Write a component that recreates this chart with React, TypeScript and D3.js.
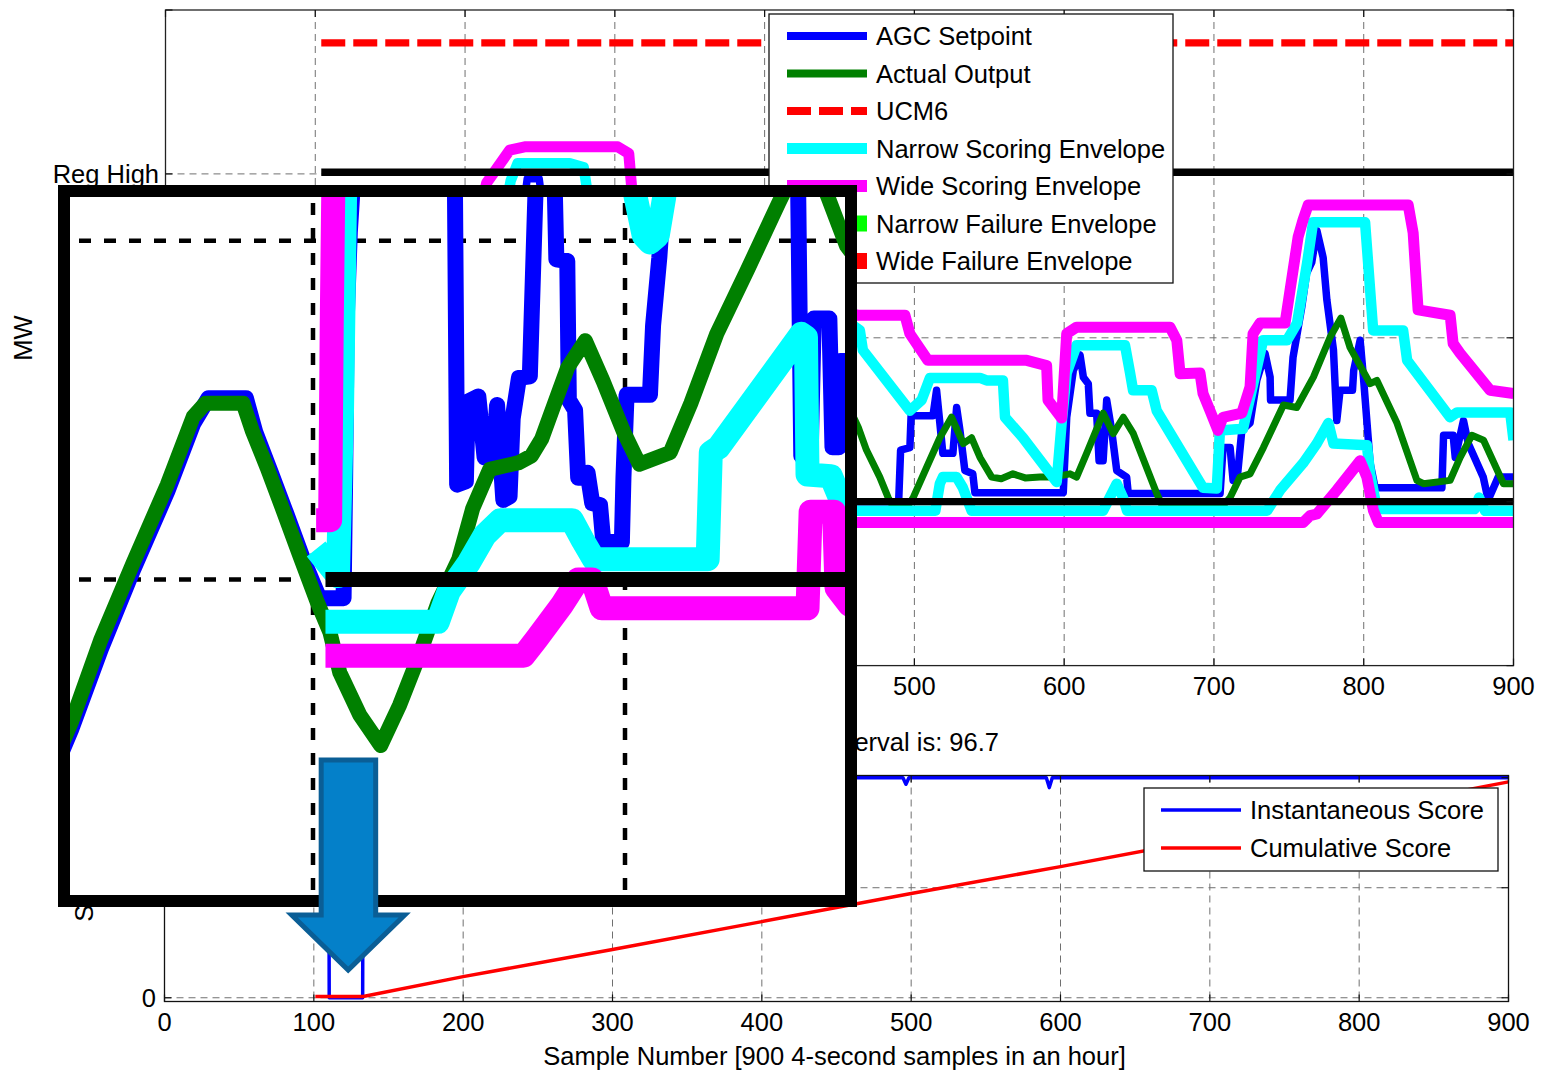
import React from "react";
import * as d3 from "d3";

type Pt = [number, number];

// ---------------- data ----------------
const sampleTicks = [0, 100, 200, 300, 400, 500, 600, 700, 800, 900];
const mwTickValues = [20, 40, 60, 80, 100];
const mwGridValues = [40, 60, 80];
const regHighTick = 80;
const scoreTickValues = [0, 50, 100];
const insetGridSamples = [100, 200];
const insetGridValues = [40, 60];

const regHigh = 80.2;
const regLow = 40;
const ucm6 = 96;
const envelopeStart = 104;
const lastSample = 900;

const agcSetpoint: Pt[] = [
  [18, 29.2], [22.6, 31.2], [32, 35.9], [42.4, 40.6], [53.3, 45.2], [61.6, 49.2], [66.5, 50.7], [78.5, 50.7],
  [81.5, 48.7], [86.3, 46.4], [91.4, 43.9], [96.8, 41.2], [102, 38.9],
  [109.8, 38.9], [110.3, 46], [110.8, 55.3], [111.8, 60.5], [113, 64], [115, 70],
  [143, 70], [145.5, 63], [146.2, 45.6], [149, 45.8], [149.6, 50.5], [153, 50.8], [155, 47.2], [158, 47.5],
  [159, 50.3], [161, 44.7], [163, 44.9], [164, 49.5], [166, 51.9], [169.5, 52], [170.5, 58], [171.5, 64], [173, 70],
  [176.5, 70], [177.5, 63], [178, 58.9], [181.5, 58.8], [182, 50.6], [184, 50], [185, 46], [188, 46.3],
  [189.5, 44.5], [192, 44.4], [193, 42.3], [199, 42.2], [199.5, 46], [200.5, 50.9], [208, 50.9], [209, 55],
  [211, 59], [212.5, 63], [214.5, 70],
  [238, 72], [240.5, 78], [241.5, 79.4], [249.5, 79.4], [250.5, 78], [252.5, 70], [255.5, 63], [256.5, 47.3],
  [259.5, 47.3], [260.5, 55.4], [265.5, 55.4], [266.5, 47.8], [268.5, 47.8], [269, 52.9], [273, 52.9],
  [290, 50], [320, 46], [360, 48], [400, 44], [440, 42], [460, 40], [489.5, 40],
  [490.8, 46.3], [497, 46.6], [497.8, 50.5], [512.4, 50.5], [514.8, 53.6], [517, 49.6], [519, 45.9],
  [525.7, 45.9], [528.2, 51.5], [530.4, 48.7], [533.7, 43.8], [539, 43.4], [540.4, 41.1], [599.4, 41.1],
  [601.7, 50.3], [606.1, 56], [610.6, 57.9], [612.8, 55.2], [616.1, 54.4], [617.2, 50.8], [621.7, 50.8],
  [623.3, 45], [626, 45], [628.4, 52.4], [631.7, 48.7], [635.1, 43.8], [641.7, 43], [642.8, 41], [704.1, 41],
  [706.1, 46.6], [710.8, 46.6], [712.8, 42.6], [715.4, 42.6], [718.6, 48.7], [724.1, 49.6], [728.6, 54.8],
  [734.1, 58.1], [737.5, 55.2], [737.8, 52.4], [750.8, 52.4], [752.8, 57.6], [758.6, 63.7], [761.9, 67.9],
  [765.3, 69.2], [768.7, 73.1], [772.9, 69.8], [775.4, 64.6], [779.8, 58.5], [782, 49.9], [784.2, 53.6],
  [792.5, 53.6], [793.3, 56], [797.6, 59.7], [799.8, 55.2], [804.3, 44.7], [807.6, 41.7], [852.2, 41.7],
  [853.3, 48.1], [859.7, 48.1], [861.1, 45.4], [866.6, 49.9], [869.8, 47.1], [879.8, 43], [883.1, 40.2],
  [889.8, 43], [900, 43],
];

const actualOutput: Pt[] = [
  [18, 29.6], [22.6, 31.6], [31.9, 36.4], [42.4, 41.0], [53.3, 45.6], [61.6, 49.6], [65.5, 50.4], [77.6, 50.4],
  [80.5, 48.8], [85.3, 46.6], [90.4, 44.1], [95.8, 41.4], [101.3, 38.7], [105.4, 36.9], [108.6, 34.5],
  [115, 32.0], [121.7, 30.2], [127.8, 32.6], [134.2, 35.6], [140, 38.6], [146.7, 41.2], [151.2, 44.2],
  [156.6, 46.5], [166, 46.9], [170, 47.3], [173.3, 48.3], [181.6, 52.5], [187.3, 54.1], [193, 51.7],
  [199.6, 48.7], [204.6, 46.8], [214.5, 47.5], [221.1, 50.4], [229.4, 54.5], [239.3, 58.3], [249.2, 62.2],
  [256, 64.8], [261, 64.5], [265, 62.6], [271, 59.7],
  [290, 55], [320, 50], [350, 47], [380, 51], [410, 55], [440, 56], [455, 52],
  [462.5, 49.1], [468, 46.3], [476.9, 43], [482.5, 40.5], [486, 39.3], [495, 39.3], [499.2, 40.5],
  [508.2, 44.2], [517, 47.8], [524.8, 50.3], [532.6, 47.1], [538.2, 47.8], [543.8, 45.4], [551.6, 43],
  [558, 42.8], [565.8, 43.4], [574, 42.9], [583.8, 43], [592.7, 43], [603.9, 43.4], [608.3, 43], [615, 45.9],
  [626.1, 50.8], [632.8, 48.3], [639.5, 50.3], [646.2, 48.3], [661.8, 41], [666, 39.3], [705, 39.3],
  [710.8, 40.5], [717.4, 43], [724.1, 43.4], [733, 46.6], [746.4, 51.8], [755.3, 51.5], [766.4, 55.2],
  [777.6, 60.1], [784.7, 62.4], [790.9, 58.8], [804.3, 54.4], [808.8, 54.8], [822.2, 49.6], [835.5, 42.6],
  [839.9, 42.2], [857.7, 42.6], [864.4, 45.4], [872.2, 48.1], [880, 47.5], [893.3, 42.2], [900, 42.2],
];

const narrowUpper: Pt[] = [
  [101, 41.8], [108, 40.2], [109.3, 50], [110.3, 63], [112, 70], [198, 70], [200, 66], [203.5, 62.5],
  [206, 60.3], [208, 59.9], [210.5, 60.3], [212.5, 62.5], [215, 66], [225, 74], [230.5, 79.2], [235.1, 81.3],
  [269.9, 81.3], [279.2, 80.8], [281.2, 78.4],
  [290, 72], [330, 68], [380, 66], [430, 63.5], [455, 62],
  [463.6, 60.9], [465.6, 58.5], [497, 51.1], [504.8, 52.4], [510.4, 55.1], [543.8, 55.1], [548.2, 54.8],
  [559.1, 54.8], [560.5, 50.3], [572.5, 47.8], [595, 42.4], [598.3, 49.6], [601.7, 55.7], [608.3, 59.1],
  [640.6, 59.1], [644, 55.7], [646, 53.6], [658.4, 53.6], [661.8, 51.1], [692.7, 41.7], [701.9, 41.6],
  [704, 48.7], [719.4, 48.9], [732.8, 59.7], [748.8, 59.7], [755.5, 61.8], [762.2, 69.1], [766.2, 74.1],
  [800.9, 74.1], [804.3, 65.8], [806.3, 60.9], [826.3, 60.9], [829, 57.25], [857.7, 50.3], [862.4, 50.9],
  [897.8, 50.9], [900, 47.5],
];

const narrowLower: Pt[] = [
  [104, 37.5], [140, 37.5], [143.5, 39.3], [150, 41], [155, 42.6], [160, 43.5], [183, 43.5], [186.5, 42.3],
  [190, 41.2], [226.5, 41.2], [227.5, 47.5], [230, 47.8], [256.5, 54.5], [258, 54.3], [258.5, 46.2],
  [266, 46.1], [268.5, 45], [271.5, 43.3], [276, 40],
  [320, 39], [460, 38.9],
  [514, 38.9], [517, 42.2], [519, 43], [528.2, 43], [532.4, 41.7], [538.2, 38.9], [626, 38.9], [635.1, 42.2],
  [639.3, 40.5], [642, 38.9], [735.5, 38.9], [744.2, 41.4], [759.5, 44.7], [768.7, 47.1], [776.4, 49.6],
  [779.8, 47.1], [802.1, 46.9], [804.3, 43.4], [808.8, 39.1], [874, 39.1], [877, 40.5], [881, 38.9], [900, 38.9],
];

const wideUpper: Pt[] = [
  [101, 43.5], [105.5, 43.5], [106, 55], [106.5, 63], [108, 68], [200, 70], [208, 74], [214.4, 78.9],
  [229.8, 82.9], [239.8, 83.3], [302, 83.3], [309.3, 82.5], [311.3, 78.2],
  [320, 72], [360, 68], [420, 65], [455, 63],
  [462.3, 62.75], [493.7, 62.75], [497, 60.5], [509, 57.25], [575, 57.25], [588.3, 56.6], [589.2, 52.4],
  [598.3, 50.2], [601.7, 60.5], [608.3, 61.3], [670.7, 61.3], [675.2, 59.7], [677.4, 55.6], [690.7, 55.7],
  [692.7, 53.2], [697.4, 51.1], [702.7, 48.7], [706, 50.3], [718.6, 50.8], [724.1, 54], [726.1, 60.5],
  [730.8, 61.8], [747.5, 61.8], [750.8, 65.8], [756.2, 72.3], [759.5, 74.4], [762.9, 76.2], [829.7, 76.2],
  [833, 72.8], [836.3, 63.4], [857.7, 62.75], [859.7, 59.3], [864.4, 58.1], [884.4, 53.6], [900, 53.2],
];

const wideLower: Pt[] = [
  [104, 35.5], [167.5, 35.5], [171.7, 36.5], [179.8, 38.5], [185, 40], [189.5, 40], [192.5, 38.3],
  [258.5, 38.3], [259.5, 44], [267, 44], [267.8, 39.5], [272, 38.5],
  [320, 37.5], [460, 37.45],
  [759.5, 37.45], [764.2, 38.3], [768.7, 38.5], [782, 41.4], [797.6, 45], [802.1, 43], [806.5, 38.9],
  [809.8, 37.45], [900, 37.45],
];

const instantaneousScore: Pt[] = [
  [104, 100], [110, 100], [110.3, 0], [132.7, 0], [133, 100], [494.5, 100], [496.5, 97], [498.5, 100],
  [590.5, 100], [592.5, 95.5], [594.5, 100], [900, 100],
];

const cumulativeScore: Pt[] = [
  [101, 0.6], [133, 0.6], [200, 9.6], [300, 21.9], [400, 34.6], [500, 47.4], [600, 59.6], [700, 72.4],
  [800, 85.1], [900, 98.1],
];

const topLegendLabels = [
  "AGC Setpoint",
  "Actual Output",
  "UCM6",
  "Narrow Scoring Envelope",
  "Wide Scoring Envelope",
  "Narrow Failure Envelope",
  "Wide Failure Envelope",
];
const bottomLegendLabels = ["Instantaneous Score", "Cumulative Score"];
const scoreTitle = "Performance Score for the interval is: 96.7";
const xAxisLabel = "Sample Number [900 4-second samples in an hour]";
const yAxisTop = "MW";
const yAxisBottom = "Score";
const regHighLabel = "Reg High";
const arrowSample = 123;

// ---------------- styling ----------------
const FONT = "'Liberation Sans', Arial, Helvetica, sans-serif";
const FS = 25.5;
const BLUE = "#0000FF";
const GREEN = "#008000";
const CYAN = "#00FFFF";
const MAGENTA = "#FF00FF";
const RED = "#FF0000";
const LIME = "#00FF00";
const GRID = "#707070";

const topLegendStyles = [
  { color: BLUE, width: 8, dash: undefined as string | undefined },
  { color: GREEN, width: 8, dash: undefined },
  { color: RED, width: 8, dash: "24,8" },
  { color: CYAN, width: 11, dash: undefined },
  { color: MAGENTA, width: 12, dash: undefined },
  { color: LIME, width: 16, dash: undefined },
  { color: RED, width: 16, dash: undefined },
];
const bottomLegendStyles = [BLUE, RED];

export default function App() {
  // scales
  const xMain = d3.scaleLinear().domain([0, 900]).range([165.5, 1513.5]);
  const yMain = d3.scaleLinear().domain([20, 100]).range([665.6, 10]);
  const xIn = d3.scaleLinear().domain([100, 200]).range([313, 625]);
  const yIn = d3.scaleLinear().domain([40, 60]).range([579.5, 240.7]);
  const xBot = d3.scaleLinear().domain([0, 900]).range([164.5, 1508.5]);
  const yBot = d3.scaleLinear().domain([-1.7, 101]).range([1001.5, 775.5]);

  const mk = (x: d3.ScaleLinear<number, number>, y: d3.ScaleLinear<number, number>) =>
    d3.line<Pt>().x((d) => x(d[0])).y((d) => y(d[1]));

  const regHighLine: Pt[] = [[envelopeStart, regHigh], [lastSample, regHigh]];
  const regLowLine: Pt[] = [[envelopeStart, regLow], [lastSample, regLow]];
  const ucmLine: Pt[] = [[envelopeStart, ucm6], [lastSample, ucm6]];

  const seriesDefs = [
    { data: agcSetpoint, color: BLUE, w: 7.5, wIn: 16 },
    { data: actualOutput, color: GREEN, w: 7, wIn: 15 },
    { data: narrowUpper, color: CYAN, w: 10.5, wIn: 24 },
    { data: narrowLower, color: CYAN, w: 10.5, wIn: 24 },
    { data: wideUpper, color: MAGENTA, w: 11, wIn: 24 },
    { data: wideLower, color: MAGENTA, w: 11, wIn: 24 },
  ];

  const lineMain = mk(xMain, yMain);
  const lineIn = mk(xIn, yIn);
  const lineBot = mk(xBot, yBot);

  const mainL = xMain(0), mainR = xMain(900), mainT = yMain(100), mainB = yMain(20);
  const botL = xBot(0), botR = xBot(900), botT = yBot(101), botB = yBot(-1.7);

  // inset frame geometry
  const inX0 = 64, inY0 = 191, inX1 = 851, inY1 = 901, frameW = 12;
  const inInnerX0 = inX0 + frameW / 2, inInnerY0 = inY0 + frameW / 2;
  const inInnerX1 = inX1 - frameW / 2, inInnerY1 = inY1 - frameW / 2;

  // legend geometry
  const lgX = 769, lgY = 14, lgW = 404, lgH = 269, lgRow0 = 36, lgStep = 37.5;
  const blgX = 1144, blgY = 788, blgW = 354, blgH = 83;

  const tick = 7;

  // arrow
  const ac = xBot(arrowSample);
  const arrowPts = [
    [ac - 27, 760], [ac + 27.5, 760], [ac + 27.5, 915], [ac + 56.5, 915], [ac, 970], [ac - 56.5, 915], [ac - 27, 915],
  ].map((p) => p.join(",")).join(" ");

  return (
    <svg
      width={1541}
      height={1072}
      viewBox="0 0 1541 1072"
      style={{ position: "absolute", left: 0, top: 0, background: "#fff" }}
      fontFamily={FONT}
    >
      <defs>
        <clipPath id="clipMain">
          <rect x={mainL} y={mainT} width={mainR - mainL} height={mainB - mainT} />
        </clipPath>
        <clipPath id="clipBot">
          <rect x={botL} y={botT} width={botR - botL} height={botB - botT} />
        </clipPath>
        <clipPath id="clipIn">
          <rect x={inInnerX0} y={inInnerY0} width={inInnerX1 - inInnerX0} height={inInnerY1 - inInnerY0} />
        </clipPath>
      </defs>
      <rect x={0} y={0} width={1541} height={1072} fill="#fff" />

      {/* ================= bottom axes ================= */}
      <g>
        {sampleTicks.slice(1, -1).map((t) => (
          <line key={"bg" + t} x1={xBot(t)} x2={xBot(t)} y1={botT} y2={botB} stroke={GRID} strokeWidth={1} strokeDasharray="7,5" />
        ))}
        {scoreTickValues.map((v) => (
          <line key={"bh" + v} x1={botL} x2={botR} y1={yBot(v)} y2={yBot(v)} stroke={GRID} strokeWidth={1} strokeDasharray="7,5" />
        ))}
        <g clipPath="url(#clipBot)">
          <path d={lineBot(instantaneousScore) || ""} fill="none" stroke={BLUE} strokeWidth={3.5} strokeLinejoin="round" />
          <path d={lineBot(cumulativeScore) || ""} fill="none" stroke={RED} strokeWidth={3.5} strokeLinejoin="round" />
        </g>
        <rect x={botL} y={botT} width={botR - botL} height={botB - botT} fill="none" stroke="#111" strokeWidth={1.3} />
        {sampleTicks.map((t) => (
          <g key={"bt" + t}>
            <line x1={xBot(t)} x2={xBot(t)} y1={botB} y2={botB - tick} stroke="#111" strokeWidth={1.2} />
            <line x1={xBot(t)} x2={xBot(t)} y1={botT} y2={botT + tick} stroke="#111" strokeWidth={1.2} />
            <text x={xBot(t)} y={1031} fontSize={FS} textAnchor="middle" fill="#000">{t}</text>
          </g>
        ))}
        {scoreTickValues.map((v) => (
          <g key={"byt" + v}>
            <line x1={botL} x2={botL + tick} y1={yBot(v)} y2={yBot(v)} stroke="#111" strokeWidth={1.2} />
            <line x1={botR} x2={botR - tick} y1={yBot(v)} y2={yBot(v)} stroke="#111" strokeWidth={1.2} />
          </g>
        ))}
        <text x={156} y={yBot(0) + 9} fontSize={FS} textAnchor="end" fill="#000">0</text>
        <text x={(botL + botR) / 2 - 2} y={1065} fontSize={FS} textAnchor="middle" fill="#000">{xAxisLabel}</text>
        <text x={999} y={751} fontSize={FS} textAnchor="end" fill="#000">{scoreTitle}</text>
        <text transform={`translate(93, ${(botT + botB) / 2}) rotate(-90)`} fontSize={FS} textAnchor="middle" fill="#000">{yAxisBottom}</text>
      </g>

      {/* ================= top axes ================= */}
      <g>
        {sampleTicks.slice(1, -1).map((t) => (
          <line key={"mg" + t} x1={xMain(t)} x2={xMain(t)} y1={mainT} y2={mainB} stroke={GRID} strokeWidth={1} strokeDasharray="7,5" />
        ))}
        {mwGridValues.map((v) => (
          <line key={"mh" + v} x1={mainL} x2={mainR} y1={yMain(v)} y2={yMain(v)} stroke={GRID} strokeWidth={1} strokeDasharray="7,5" />
        ))}
        <g clipPath="url(#clipMain)">
          {seriesDefs.map((s, i) => (
            <path key={"ms" + i} d={lineMain(s.data) || ""} fill="none" stroke={s.color} strokeWidth={s.w} strokeLinejoin="round" strokeLinecap="butt" />
          ))}
          <path d={lineMain(regHighLine) || ""} stroke="#000" strokeWidth={7.3} fill="none" />
          <path d={lineMain(regLowLine) || ""} stroke="#000" strokeWidth={7.3} fill="none" />
          <path d={lineMain(ucmLine) || ""} stroke={RED} strokeWidth={7.3} strokeDasharray="24,8" fill="none" />
        </g>
        <rect x={mainL} y={mainT} width={mainR - mainL} height={mainB - mainT} fill="none" stroke="#222" strokeWidth={1.3} />
        {sampleTicks.map((t) => (
          <g key={"mt" + t}>
            <line x1={xMain(t)} x2={xMain(t)} y1={mainB} y2={mainB - tick} stroke="#111" strokeWidth={1.2} />
            <line x1={xMain(t)} x2={xMain(t)} y1={mainT} y2={mainT + tick} stroke="#111" strokeWidth={1.2} />
            <text x={xMain(t)} y={695} fontSize={FS} textAnchor="middle" fill="#000">{t}</text>
          </g>
        ))}
        {mwTickValues.map((v) => (
          <g key={"myt" + v}>
            <line x1={mainL} x2={mainL + tick} y1={yMain(v)} y2={yMain(v)} stroke="#111" strokeWidth={1.2} />
            <line x1={mainR} x2={mainR - tick} y1={yMain(v)} y2={yMain(v)} stroke="#111" strokeWidth={1.2} />
          </g>
        ))}
        <text x={159} y={yMain(regHighTick) + 9} fontSize={FS} textAnchor="end" fill="#000">{regHighLabel}</text>
        <text transform={`translate(32, 338) rotate(-90)`} fontSize={FS} textAnchor="middle" fill="#000">{yAxisTop}</text>
      </g>

      {/* ================= top legend ================= */}
      <g>
        <rect x={lgX} y={lgY} width={lgW} height={lgH} fill="#fff" stroke="#111" strokeWidth={1.3} />
        {topLegendLabels.map((lab, i) => {
          const st = topLegendStyles[i];
          const y = lgRow0 + i * lgStep;
          return (
            <g key={"lg" + i}>
              <line x1={787} x2={867} y1={y} y2={y} stroke={st.color} strokeWidth={st.width} strokeDasharray={st.dash} />
              <text x={876} y={y + 9} fontSize={FS} fill="#000">{lab}</text>
            </g>
          );
        })}
      </g>

      {/* ================= inset (magnified view) ================= */}
      <g>
        <rect x={inX0} y={inY0} width={inX1 - inX0} height={inY1 - inY0} fill="#fff" />
        <g clipPath="url(#clipIn)">
          {insetGridSamples.map((t) => (
            <line key={"ig" + t} x1={xIn(t)} x2={xIn(t)} y1={inInnerY0 + 6} y2={inInnerY1} stroke="#000" strokeWidth={4.5} strokeDasharray="12,13" />
          ))}
          {insetGridValues.map((v) => (
            <line key={"ih" + v} x1={inInnerX0 + 9} x2={inInnerX1} y1={yIn(v)} y2={yIn(v)} stroke="#000" strokeWidth={4.5} strokeDasharray="12,13" />
          ))}
          {seriesDefs.map((s, i) => (
            <path key={"is" + i} d={lineIn(s.data) || ""} fill="none" stroke={s.color} strokeWidth={s.wIn} strokeLinejoin="round" strokeLinecap="butt" />
          ))}
          <path d={lineIn(regLowLine) || ""} stroke="#000" strokeWidth={15} fill="none" />
          <path d={lineIn(regHighLine) || ""} stroke="#000" strokeWidth={15} fill="none" />
        </g>
        <rect x={inX0} y={inY0} width={inX1 - inX0} height={inY1 - inY0} fill="none" stroke="#000" strokeWidth={frameW} />
      </g>

      {/* ================= bottom legend ================= */}
      <g>
        <rect x={blgX} y={blgY} width={blgW} height={blgH} fill="#fff" stroke="#111" strokeWidth={1.3} />
        {bottomLegendLabels.map((lab, i) => {
          const y = 810 + i * 38;
          return (
            <g key={"blg" + i}>
              <line x1={1161} x2={1241} y1={y} y2={y} stroke={bottomLegendStyles[i]} strokeWidth={3.5} />
              <text x={1250} y={y + 9} fontSize={FS} fill="#000">{lab}</text>
            </g>
          );
        })}
      </g>

      {/* ================= arrow ================= */}
      <polygon points={arrowPts} fill="#0480C9" stroke="#0A5E96" strokeWidth={5} strokeLinejoin="miter" />
    </svg>
  );
}
